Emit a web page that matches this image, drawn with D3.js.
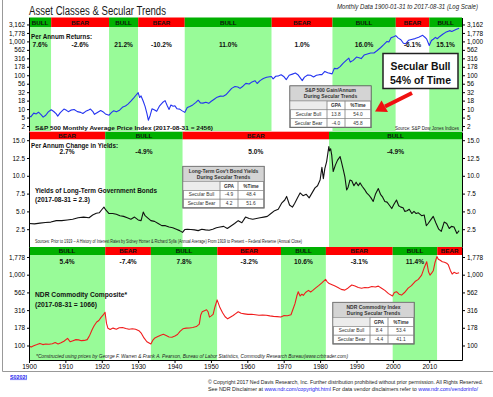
<!DOCTYPE html>
<html>
<head>
<meta charset="utf-8">
<script src="https://cdnjs.cloudflare.com/ajax/libs/d3/7.8.5/d3.min.js"></script>
<style>
body { margin: 0; background: #fff; }
svg { display: block; }
</style>
</head>
<body>
<div id="chart"></div>
<script>
//Datasets ([year, value])
var spxData = [[1900.0,6.4],[1900.5,5.9],[1901.3,7.6],[1902.0,7.2],[1902.6,8.1],[1903.3,6.9],[1903.9,5.8],[1904.6,6.6],[1905.3,8.3],[1906.1,9.6],[1906.8,8.5],[1907.5,7.2],[1907.9,6.2],[1908.6,7.9],[1909.6,10.0],[1910.3,9.2],[1910.8,8.4],[1911.5,9.3],[1912.4,9.7],[1913.3,8.4],[1914.2,8.0],[1914.8,7.4],[1915.6,8.6],[1916.4,9.4],[1916.9,10.0],[1917.5,8.6],[1918.0,7.0],[1918.8,7.9],[1919.7,9.1],[1920.3,8.4],[1921.0,7.2],[1922.0,6.6],[1922.7,8.0],[1923.3,8.9],[1924.0,8.3],[1924.9,9.3],[1925.8,11.6],[1926.5,12.4],[1927.2,14.0],[1928.0,17.2],[1928.8,21.5],[1929.5,26.5],[1930.0,30.5],[1930.4,22.0],[1930.8,24.5],[1931.4,17.0],[1931.9,12.0],[1932.4,7.5],[1932.8,4.7],[1933.3,6.5],[1933.8,10.2],[1934.4,9.6],[1935.1,8.6],[1935.9,12.5],[1936.7,15.6],[1937.4,17.8],[1938.0,12.5],[1938.5,9.8],[1939.0,13.2],[1939.6,12.2],[1940.1,12.5],[1940.7,10.2],[1941.4,10.0],[1942.0,9.0],[1942.8,8.0],[1943.5,11.2],[1944.2,12.0],[1945.0,13.3],[1945.8,15.6],[1946.5,18.3],[1947.1,15.2],[1947.8,15.0],[1948.6,16.0],[1949.4,14.8],[1950.1,17.0],[1950.9,19.5],[1951.7,22.5],[1952.6,24.2],[1953.4,24.0],[1954.1,26.5],[1954.9,33.0],[1955.7,41.0],[1956.6,46.5],[1957.4,45.0],[1958.0,41.0],[1958.8,47.5],[1959.6,57.5],[1960.5,55.0],[1961.3,63.5],[1962.1,69.0],[1962.7,57.0],[1963.5,69.5],[1964.4,80.5],[1965.3,87.0],[1966.6,92.0],[1967.1,78.5],[1967.8,93.5],[1968.6,96.0],[1969.3,103.5],[1970.1,90.0],[1970.7,74.5],[1971.5,100.0],[1972.4,108.0],[1973.2,116.0],[1973.9,104.0],[1974.6,82.0],[1975.1,69.5],[1975.7,88.0],[1976.6,102.0],[1977.4,100.0],[1978.2,89.0],[1979.0,100.0],[1979.8,104.0],[1980.5,104.0],[1981.3,130.0],[1982.1,118.0],[1983.3,110.0],[1983.9,160.0],[1984.7,156.0],[1985.5,180.0],[1986.3,225.0],[1987.1,270.0],[1987.9,320.0],[1988.3,245.0],[1989.1,275.0],[1990.0,345.0],[1990.7,330.0],[1991.3,310.0],[1992.1,395.0],[1993.0,425.0],[1993.9,455.0],[1994.8,455.0],[1995.7,540.0],[1996.6,650.0],[1997.5,800.0],[1998.4,1000.0],[1998.9,960.0],[1999.5,1280.0],[2000.2,1380.0],[2000.8,1480.0],[2001.5,1250.0],[2002.2,1120.0],[2002.9,880.0],[2003.5,850.0],[2004.3,1080.0],[2005.1,1140.0],[2006.1,1210.0],[2007.1,1320.0],[2008.2,1510.0],[2008.8,1330.0],[2009.3,1170.0],[2010.0,760.0],[2010.6,1060.0],[2011.1,1160.0],[2011.7,1320.0],[2012.2,1200.0],[2012.9,1400.0],[2013.7,1620.0],[2014.5,1850.0],[2015.6,2080.0],[2016.2,1960.0],[2016.9,2120.0],[2017.5,2300.0],[2018.2,2456]];

var bondData = [[1900.0,3.3],[1901.5,3.25],[1903.0,3.35],[1904.5,3.45],[1906.0,3.5],[1907.5,3.7],[1909.0,3.7],[1910.5,3.8],[1912.0,3.9],[1913.5,4.1],[1915.0,4.2],[1916.5,4.1],[1917.5,4.5],[1918.5,4.75],[1919.3,4.8],[1920.1,5.3],[1920.6,5.6],[1921.1,5.2],[1922.0,4.7],[1923.0,4.7],[1924.0,4.6],[1925.0,4.4],[1926.0,4.3],[1927.0,4.1],[1928.0,3.9],[1929.0,4.2],[1930.0,3.8],[1930.8,3.7],[1931.4,4.9],[1931.9,4.4],[1932.6,4.1],[1933.5,3.7],[1934.5,3.6],[1935.5,3.3],[1936.5,3.0],[1937.5,3.0],[1938.5,2.8],[1939.5,2.7],[1940.5,2.5],[1941.4,2.3],[1942.2,2.05],[1942.8,2.45],[1943.5,2.5],[1944.5,2.45],[1945.5,2.4],[1946.5,2.3],[1947.5,2.5],[1948.5,2.4],[1949.5,2.35],[1950.5,2.5],[1951.5,2.7],[1952.5,2.8],[1953.5,2.9],[1954.5,2.6],[1955.5,2.95],[1956.5,3.3],[1957.5,3.7],[1958.5,3.4],[1959.5,4.2],[1960.5,4.0],[1961.5,3.9],[1962.5,4.0],[1963.5,4.1],[1964.5,4.2],[1965.5,4.3],[1966.5,4.7],[1967.5,5.1],[1968.5,5.3],[1969.5,6.2],[1970.3,6.6],[1970.8,7.1],[1971.6,5.9],[1972.4,5.6],[1973.0,6.1],[1973.8,6.9],[1974.5,7.6],[1975.3,7.2],[1976.2,7.4],[1977.0,6.9],[1977.8,7.6],[1978.6,8.3],[1979.3,8.6],[1980.0,9.4],[1980.5,11.2],[1980.9,9.6],[1981.3,11.0],[1981.8,12.0],[1982.4,14.1],[1982.6,13.5],[1982.9,13.8],[1983.2,12.9],[1983.6,10.6],[1984.2,11.5],[1984.8,12.2],[1985.5,12.7],[1985.9,11.9],[1986.4,10.8],[1986.8,9.9],[1987.3,8.0],[1987.7,8.4],[1988.2,9.4],[1988.7,9.3],[1989.3,8.6],[1989.9,9.1],[1990.5,8.6],[1991.0,9.0],[1991.6,8.5],[1992.2,8.1],[1992.8,7.6],[1993.4,7.3],[1994.0,6.9],[1994.6,6.4],[1995.2,7.4],[1996.0,8.2],[1996.6,7.4],[1997.2,7.0],[1997.8,6.4],[1998.4,6.3],[1999.0,5.9],[1999.7,5.4],[2000.3,6.0],[2001.0,6.6],[2001.6,5.8],[2002.2,5.6],[2002.8,5.5],[2003.3,5.0],[2003.9,5.1],[2004.5,5.3],[2005.2,4.7],[2005.8,5.0],[2006.4,4.7],[2007.0,4.8],[2007.9,4.4],[2008.6,4.5],[2009.2,3.0],[2009.7,3.3],[2010.4,3.8],[2011.1,4.3],[2011.8,3.4],[2012.6,2.5],[2013.3,2.2],[2014.1,3.5],[2014.8,3.3],[2015.5,2.6],[2016.1,2.9],[2016.8,2.8],[2017.6,1.9],[2018.2,2.3]];

var cmdData = [[1900.0,98],[1900.6,95],[1901.3,99],[1902.2,103],[1903.0,107],[1903.8,103],[1904.6,105],[1905.5,104],[1906.4,106],[1907.2,110],[1908.0,105],[1908.8,109],[1909.6,115],[1910.6,126],[1911.3,113],[1912.1,117],[1912.9,121],[1913.6,120],[1914.4,117],[1915.2,118],[1916.0,121],[1916.7,140],[1917.4,170],[1917.9,190],[1918.6,215],[1919.2,225],[1919.8,250],[1920.4,270],[1920.9,295],[1921.3,205],[1921.7,175],[1922.3,168],[1923.1,176],[1924.0,170],[1924.8,178],[1925.7,180],[1926.6,174],[1927.5,170],[1928.4,172],[1929.3,170],[1930.2,162],[1930.9,148],[1931.6,128],[1932.4,113],[1933.5,105],[1934.0,118],[1934.6,128],[1935.4,134],[1936.2,140],[1936.9,144],[1937.7,138],[1938.5,132],[1939.3,131],[1940.1,136],[1940.8,143],[1941.5,158],[1942.3,172],[1943.2,176],[1944.1,177],[1945.0,180],[1946.0,185],[1946.8,200],[1947.2,270],[1947.6,300],[1948.2,310],[1948.8,320],[1949.2,300],[1949.6,252],[1950.0,260],[1950.6,275],[1951.1,350],[1951.7,440],[1952.0,400],[1952.5,340],[1953.2,290],[1953.9,255],[1954.6,238],[1955.3,250],[1956.1,265],[1956.8,282],[1957.5,300],[1958.3,285],[1959.2,280],[1960.2,275],[1961.2,276],[1962.2,272],[1963.2,268],[1964.2,270],[1965.2,268],[1966.2,262],[1967.2,258],[1968.2,256],[1969.2,252],[1970.0,264],[1971.0,263],[1972.0,272],[1972.6,330],[1973.1,390],[1973.6,500],[1974.0,575],[1974.5,500],[1975.0,530],[1975.4,510],[1976.0,560],[1976.8,600],[1977.4,570],[1978.0,600],[1978.8,650],[1979.6,700],[1980.4,760],[1981.5,860],[1981.9,800],[1982.5,750],[1983.3,720],[1984.1,690],[1984.9,660],[1985.8,620],[1986.8,605],[1987.7,650],[1988.7,715],[1989.6,690],[1990.5,660],[1991.4,645],[1992.3,660],[1993.2,655],[1994.2,680],[1995.2,670],[1996.0,690],[1996.9,645],[1997.8,600],[1998.8,540],[1999.9,500],[2000.4,560],[2001.0,575],[2001.7,530],[2002.4,515],[2003.2,560],[2004.2,645],[2005.1,700],[2006.1,800],[2007.0,860],[2007.9,985],[2008.6,1250],[2009.3,1525],[2009.8,1100],[2010.2,985],[2010.7,1060],[2011.1,1135],[2011.6,1500],[2012.1,1800],[2012.5,1650],[2013.0,1600],[2013.6,1520],[2014.2,1500],[2014.8,1450],[2015.2,1390],[2015.8,1150],[2016.3,1020],[2016.8,1080],[2017.5,1040],[2018.2,1066]];

// secular trend periods
var spxBreaks = [1900, 1906.1, 1922.0, 1930.0, 1942.8, 1966.7, 1983.4, 2000.8, 2010.0, 2019];
var spxTrends = ["BULL", "BEAR", "BULL", "BEAR", "BULL", "BEAR", "BULL", "BEAR", "BULL"];
var spxReturns = ["7.6%", "-2.6%", "21.2%", "-10.2%", "11.0%", "1.0%", "16.0%", "-6.1%", "15.1%"];

var bondBreaks = [1900, 1920.95, 1942.25, 1982.45, 2019];
var bondTrends = ["BEAR", "BULL", "BEAR", "BULL"];
var bondChanges = ["2.7%", "-4.9%", "5.0%", "-4.9%"];

var cmdBreaks = [1900, 1920.95, 1933.5, 1951.75, 1969.25, 1981.6, 1999.95, 2012.2, 2019];
var cmdTrends = ["BULL", "BEAR", "BULL", "BEAR", "BULL", "BEAR", "BULL", "BEAR"];
var cmdReturns = ["5.4%", "-7.4%", "7.8%", "-3.2%", "10.6%", "-3.1%", "11.4%", ""];

// ticks
var spxTickValues = [3162, 1778, 1000, 562, 316, 178, 100, 56.2, 31.6, 17.8, 10, 5.62, 3.16];
var spxTickLabels = ["3,162", "1,778", "1,000", "562", "316", "178", "100", "56", "32", "18", "10", "5", "2"];
var bondTickValues = [15, 12.5, 10, 7.5, 5, 2.5];
var bondTickLabels = ["15.0", "12.5", "10.0", "7.5", "5.0", "2.5"];
var cmdTickValues = [1778, 1000, 562, 316, 178, 100];
var cmdTickLabels = ["1,778", "1,000", "562", "316", "178", "100"];
var yearTicks = [1900, 1910, 1920, 1930, 1940, 1950, 1960, 1970, 1980, 1990, 2000, 2010];

// summary tables
var spxTable = [["Secular Bull", "13.8", "54.0"], ["Secular Bear", "-4.0", "45.8"]];
var bondTable = [["Secular Bull", "-4.9", "48.4"], ["Secular Bear", "4.2", "51.6"]];
var cmdTable = [["Secular Bull", "8.4", "53.4"], ["Secular Bear", "-4.4", "41.1"]];

var SANS = '"Liberation Sans", Arial, sans-serif';
var NARROW = '"Liberation Sans Narrow", "Arial Narrow", "Liberation Sans", Arial, sans-serif';
var BULL_BG = "#98fb98", BULL_HEAD = "#00b000", BEAR_HEAD = "#ff0000";

var svg = d3.select("#chart").append("svg")
    .attr("width", 493)
    .attr("height", 397);

var x = d3.scaleLinear().domain([1900, 2019]).range([29, 462]);
var ySpx = d3.scaleLog().domain([2.254, 5083]).range([131, 17.5]);
var yBond = d3.scaleLinear().domain([0, 16.15]).range([247, 132]);
var yCmd = d3.scaleLog().domain([62.4, 2461]).range([360, 247]);

var panels = [
    {id: "spx", top: 17.5, head: 9.5, bottom: 131, y: ySpx, data: spxData, breaks: spxBreaks, trends: spxTrends,
     labels: spxReturns, labelY: 46.5, headTextY: 25.2, color: "#2434f0", ticks: spxTickValues, tickLabels: spxTickLabels},
    {id: "bond", top: 131.7, head: 7.6, bottom: 247, y: yBond, data: bondData, breaks: bondBreaks, trends: bondTrends,
     labels: bondChanges, labelY: 154.3, headTextY: 138, color: "#111", ticks: bondTickValues, tickLabels: bondTickLabels},
    {id: "cmd", top: 247, head: 8, bottom: 360, y: yCmd, data: cmdData, breaks: cmdBreaks, trends: cmdTrends,
     labels: cmdReturns, labelY: 263.5, headTextY: 253.4, color: "#f01c1c", ticks: cmdTickValues, tickLabels: cmdTickLabels}
];

function txt(parent, str, px, py, size, opts) {
    opts = opts || {};
    var t = parent.append("text")
        .attr("x", px)
        .attr("y", py)
        .attr("font-size", size)
        .attr("font-family", opts.family || SANS)
        .attr("font-weight", opts.bold ? "bold" : "normal")
        .attr("fill", opts.fill || "#111")
        .attr("text-anchor", opts.anchor || "start")
        .text(str);
    if (opts.italic) t.attr("font-style", "italic");
    if (opts.len) t.attr("textLength", opts.len).attr("lengthAdjust", "spacingAndGlyphs");
    return t;
}

function drawPanel(p) {
    var g = svg.append("g").attr("class", "panel-" + p.id);
    var bands = p.trends.map(function (t, i) {
        return {trend: t, x0: p.breaks[i], x1: p.breaks[i + 1], label: p.labels[i]};
    });

    // background shading for bull periods
    g.selectAll("rect.band")
        .data(bands)
        .enter()
        .append("rect")
        .attr("class", "band")
        .attr("x", function (d) { return x(d.x0); })
        .attr("width", function (d) { return x(d.x1) - x(d.x0); })
        .attr("y", p.top + p.head)
        .attr("height", p.bottom - p.top - p.head)
        .attr("fill", function (d) { return d.trend == "BULL" ? BULL_BG : "#fff"; });

    // bull / bear header strip
    g.selectAll("rect.head")
        .data(bands)
        .enter()
        .append("rect")
        .attr("class", "head")
        .attr("x", function (d) { return x(d.x0); })
        .attr("width", function (d) { return x(d.x1) - x(d.x0); })
        .attr("y", p.top)
        .attr("height", p.head)
        .attr("fill", function (d) { return d.trend == "BULL" ? BULL_HEAD : BEAR_HEAD; });

    g.selectAll("text.head")
        .data(bands)
        .enter()
        .append("text")
        .attr("class", "head")
        .attr("x", function (d) { return (x(d.x0) + x(d.x1)) / 2; })
        .attr("y", p.headTextY)
        .attr("text-anchor", "middle")
        .attr("font-size", 6.2)
        .attr("font-weight", "bold")
        .attr("font-family", SANS)
        .attr("fill", "#111")
        .text(function (d) { return d.trend; });

    g.selectAll("text.ret")
        .data(bands)
        .enter()
        .append("text")
        .attr("class", "ret")
        .attr("x", function (d) { return (x(d.x0) + x(d.x1)) / 2; })
        .attr("y", p.labelY)
        .attr("text-anchor", "middle")
        .attr("font-size", 6.6)
        .attr("font-weight", "bold")
        .attr("font-family", SANS)
        .attr("fill", "#111")
        .text(function (d) { return d.label; });

    svg.append("clipPath")
        .attr("id", "clip-" + p.id)
        .append("rect")
        .attr("x", 29)
        .attr("y", p.top + p.head)
        .attr("width", 433)
        .attr("height", p.bottom - p.top - p.head);

    var line = d3.line()
        .x(function (d) { return x(d[0]); })
        .y(function (d) { return p.y(d[1]); });

    g.append("path")
        .datum(p.data)
        .attr("clip-path", "url(#clip-" + p.id + ")")
        .attr("fill", "none")
        .attr("stroke", p.color)
        .attr("stroke-width", 1.1)
        .attr("stroke-linejoin", "round")
        .attr("d", line);

    var fmt = function (d, i) { return p.tickLabels[i]; };
    g.append("g")
        .attr("transform", "translate(29,0)")
        .call(d3.axisLeft(p.y).tickValues(p.ticks).tickFormat(fmt).tickSize(2).tickSizeOuter(0).tickPadding(2))
        .attr("font-size", 6.4)
        .attr("font-family", SANS);
    g.append("g")
        .attr("transform", "translate(462,0)")
        .call(d3.axisRight(p.y).tickValues(p.ticks).tickFormat(fmt).tickSize(3).tickSizeOuter(0).tickPadding(2))
        .attr("font-size", 6.4)
        .attr("font-family", SANS);
}

panels.forEach(drawPanel);

// x axis
svg.append("g")
    .attr("transform", "translate(0,360)")
    .call(d3.axisBottom(x).tickValues(yearTicks).tickFormat(d3.format("d")).tickSize(3).tickSizeOuter(0).tickPadding(1))
    .attr("font-size", 6.6)
    .attr("font-family", SANS);

// tables
function drawTable(x0, y0, title, rows) {
    var cols = [0, 37, 55, 81], titleH = 15, rowH = 8.8;
    var g = svg.append("g").attr("transform", "translate(" + x0 + "," + y0 + ")");
    g.append("rect")
        .attr("width", 81).attr("height", titleH + rowH * 3)
        .attr("fill", "#fff").attr("stroke", "#555").attr("stroke-width", 1.2);
    g.append("rect")
        .attr("width", 81).attr("height", titleH)
        .attr("fill", "#d4d4d4").attr("stroke", "#777").attr("stroke-width", 0.6);
    title.forEach(function (s, i) {
        txt(g, s, 40.5, 6.3 + i * 6, 5, {bold: true, anchor: "middle", fill: "#333"});
    });
    var all = [["", "GPA", "%Time"]].concat(rows);
    all.forEach(function (r, ri) {
        var ry = titleH + ri * rowH;
        r.forEach(function (c, ci) {
            g.append("rect")
                .attr("x", cols[ci]).attr("y", ry)
                .attr("width", cols[ci + 1] - cols[ci]).attr("height", rowH)
                .attr("fill", ri == 0 && ci == 0 ? "#ececec" : "none")
                .attr("stroke", "#888").attr("stroke-width", 0.5);
            txt(g, c, (cols[ci] + cols[ci + 1]) / 2, ry + 6, 4.8,
                {bold: ri == 0, anchor: "middle", fill: "#333"});
        });
    });
}
drawTable(290, 86, ["S&P 500 Gain/Annum", "During Secular Trends"], spxTable);
drawTable(183, 166.5, ["Long-Term Gov't Bond Yields", "During Secular Trends"], bondTable);
drawTable(333, 302.5, ["NDR Commodity Index", "During Secular Trends"], cmdTable);

// titles and notes
txt(svg, "Asset Classes & Secular Trends", 29, 14.5, 12.5, {len: 137, fill: "#1a1a1a"});
txt(svg, "Monthly Data 1900-01-31 to 2017-08-31 (Log Scale)", 478, 9, 6.4, {italic: true, anchor: "end", len: 141, fill: "#222"});
txt(svg, "Per Annum Returns:", 31, 39, 6.6, {bold: true, len: 61});
txt(svg, "S&P 500 Monthly Average Price Index (2017-08-31 = 2456)", 35, 129.5, 6, {bold: true, len: 178});
txt(svg, "Source: S&P Dow Jones Indices", 395, 130, 4.6, {len: 64, fill: "#222"});
txt(svg, "Per Annum Change in Yields:", 31, 148, 6.6, {bold: true, len: 87});
txt(svg, "Yields of Long-Term Government Bonds", 35, 193, 7, {bold: true, len: 122});
txt(svg, "(2017-08-31 = 2.3)", 35, 202.3, 7, {bold: true, len: 55});
txt(svg, "Sources: Prior to 1919 \u2013 A History of Interest Rates by Sidney Homer & Richard Sylla (Annual Average) From 1919 to Present \u2013 Federal Reserve (Annual Close)",
    35, 242.5, 4.6, {len: 267, fill: "#222"});
txt(svg, "NDR Commodity Composite*", 35, 297.3, 7, {bold: true, len: 92});
txt(svg, "(2017-08-31 = 1066)", 35, 306.7, 7, {bold: true, len: 62});
txt(svg, "*Constructed using prices by George F. Warren & Frank A. Pearson, Bureau of Labor Statistics, Commodity Research Bureau(www.crbtrader.com)",
    36, 358, 4.6, {italic: true, len: 312, fill: "#222"});

// callout
svg.append("rect")
    .attr("x", 383).attr("y", 53.5).attr("width", 75).attr("height", 35)
    .attr("fill", "#fff").attr("stroke", "#222").attr("stroke-width", 1.5);
txt(svg, "Secular Bull", 420.5, 69.5, 11.5, {bold: true, anchor: "middle", len: 60});
txt(svg, "54% of Time", 420.5, 84, 11.5, {bold: true, anchor: "middle", len: 61});
svg.append("line")
    .attr("x1", 412).attr("y1", 93).attr("x2", 385).attr("y2", 106.5)
    .attr("stroke", "#f01010").attr("stroke-width", 4);
svg.append("path")
    .attr("d", "M375,111.5 L381.5,100.5 L388,112 Z")
    .attr("fill", "#f01010");

// frame and footer
svg.append("path")
    .attr("d", "M2.5,0 V371.5 H493")
    .attr("fill", "none").attr("stroke", "#999").attr("stroke-width", 1);
txt(svg, "S0202I", 10, 378.5, 5.5, {bold: true, fill: "#1a1aee", len: 17}).attr("text-decoration", "underline");
txt(svg, "\u00a9 Copyright 2017 Ned Davis Research, Inc. Further distribution prohibited without prior permission. All Rights Reserved.",
    208, 383.5, 5, {len: 275, fill: "#222"});
var foot = txt(svg, "", 208, 391, 5, {len: 270, fill: "#222"});
foot.append("tspan").text("See NDR Disclaimer at ");
foot.append("tspan").attr("fill", "#1a1aee").text("www.ndr.com/copyright.html");
foot.append("tspan").text("   For data vendor disclaimers refer to ");
foot.append("tspan").attr("fill", "#1a1aee").text("www.ndr.com/vendorinfo/");
</script>
</body>
</html>
